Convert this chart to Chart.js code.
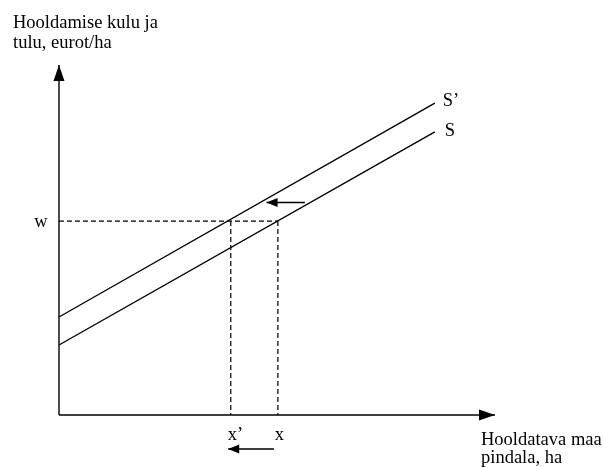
<!DOCTYPE html>
<html>
<head>
<meta charset="utf-8">
<script src="https://cdn.jsdelivr.net/npm/chart.js@4/dist/chart.umd.min.js"></script>
<style>
  html, body { margin: 0; padding: 0; background: #fff; }
  canvas { display: block; }
</style>
</head>
<body>
<canvas id="chart" width="603" height="467"></canvas>
<script>
// values in axis units (both axes run 0..100)
var axisEnd = 100;
var supplyX = [0, 86.2];
var supplyY = [20, 80.9];      // S
var supplyNewY = [28, 89.1];   // S'
var wLevel = 55.4;
var xTicks = [39.4, 50.2];
var xTickLabels = ['x\u2019', 'x'];
var shiftTop = { from: 56.4, to: 47.6, y: 60.7 };
var shiftBottom = { from: 49.3, to: 38.8, y: -9.7 };

var yTitle = ['Hooldamise kulu ja', 'tulu, eurot/ha'];
var xTitle = ['Hooldatava maa', 'pindala, ha'];
var font = '18.5px "Liberation Serif", "Times New Roman", serif';

function pts(xs, ys) {
	var out = [];
	for (var i = 0; i < xs.length; i++) out.push({ x: xs[i], y: ys[i] });
	return out;
}

function line(data, opts) {
	var ds = {
		data: data,
		borderColor: '#000',
		borderWidth: 1.4,
		pointRadius: 0,
		fill: false,
		tension: 0,
		clip: false
	};
	for (var k in opts) ds[k] = opts[k];
	return ds;
}

var dash = [5, 3];
var datasets = [
	line([{ x: 0, y: 0 }, { x: 0, y: axisEnd }], { arrow: [16, 5.5] }),
	line([{ x: 0, y: 0 }, { x: axisEnd, y: 0 }], { arrow: [16, 5.5] }),
	line(pts(supplyX, supplyNewY)),
	line(pts(supplyX, supplyY)),
	line([{ x: 0, y: wLevel }, { x: xTicks[1], y: wLevel }], { borderDash: dash, borderWidth: 1.2 }),
	line([{ x: xTicks[0], y: wLevel }, { x: xTicks[0], y: 0 }], { borderDash: dash, borderWidth: 1.2 }),
	line([{ x: xTicks[1], y: wLevel }, { x: xTicks[1], y: 0 }], { borderDash: dash, borderWidth: 1.2 }),
	line([{ x: shiftTop.from, y: shiftTop.y }, { x: shiftTop.to, y: shiftTop.y }], { arrow: [11, 4.5] }),
	line([{ x: shiftBottom.from, y: shiftBottom.y }, { x: shiftBottom.to, y: shiftBottom.y }], { arrow: [11, 4.5] })
];

var arrowHeads = {
	id: 'arrowHeads',
	afterDatasetsDraw: function (chart) {
		var ctx = chart.ctx;
		var xs = chart.scales.x, ys = chart.scales.y;
		chart.data.datasets.forEach(function (ds) {
			if (!ds.arrow) return;
			var a = ds.data[ds.data.length - 2], b = ds.data[ds.data.length - 1];
			var x1 = xs.getPixelForValue(a.x), y1 = ys.getPixelForValue(a.y);
			var x2 = xs.getPixelForValue(b.x), y2 = ys.getPixelForValue(b.y);
			var ang = Math.atan2(y2 - y1, x2 - x1);
			var len = ds.arrow[0], hw = ds.arrow[1];
			ctx.save();
			ctx.translate(x2, y2);
			ctx.rotate(ang);
			ctx.beginPath();
			ctx.moveTo(0, 0);
			ctx.lineTo(-len, -hw);
			ctx.lineTo(-len, hw);
			ctx.closePath();
			ctx.fillStyle = '#000';
			ctx.fill();
			ctx.restore();
		});
	}
};

var labels = {
	id: 'labels',
	afterDraw: function (chart) {
		var ctx = chart.ctx;
		var xs = chart.scales.x, ys = chart.scales.y;
		var x0 = xs.getPixelForValue(0), y0 = ys.getPixelForValue(0);
		ctx.save();
		ctx.font = font;
		ctx.fillStyle = '#000';
		ctx.textBaseline = 'middle';

		// tick labels
		ctx.textAlign = 'center';
		ctx.fillText('w', x0 - 18, ys.getPixelForValue(wLevel) + 1);
		ctx.textAlign = 'left';
		for (var i = 0; i < xTicks.length; i++) {
			ctx.fillText(xTickLabels[i], xs.getPixelForValue(xTicks[i]) - 3, y0 + 20);
		}

		// line labels
		var endX = xs.getPixelForValue(supplyX[1]);
		ctx.fillText('S\u2019', endX + 8, ys.getPixelForValue(supplyNewY[1]) - 2);
		ctx.fillText('S', endX + 10, ys.getPixelForValue(supplyY[1]) - 1);

		// axis titles
		ctx.fillText(yTitle[0], x0 - 46, 23);
		ctx.fillText(yTitle[1], x0 - 46, 43);
		var xEnd = xs.getPixelForValue(axisEnd);
		ctx.fillText(xTitle[0], xEnd - 14, y0 + 25);
		ctx.fillText(xTitle[1], xEnd - 14, y0 + 43);
		ctx.restore();
	}
};

new Chart(document.getElementById('chart'), {
	type: 'line',
	data: { datasets: datasets },
	options: {
		responsive: false,
		animation: false,
		devicePixelRatio: 1,
		layout: { padding: 0 },
		plugins: { legend: { display: false }, tooltip: { enabled: false } },
		scales: {
			x: { type: 'linear', min: -13.53, max: 124.77, display: false },
			y: { type: 'linear', min: -14.86, max: 118.57, display: false }
		}
	},
	plugins: [arrowHeads, labels]
});
</script>
</body>
</html>
